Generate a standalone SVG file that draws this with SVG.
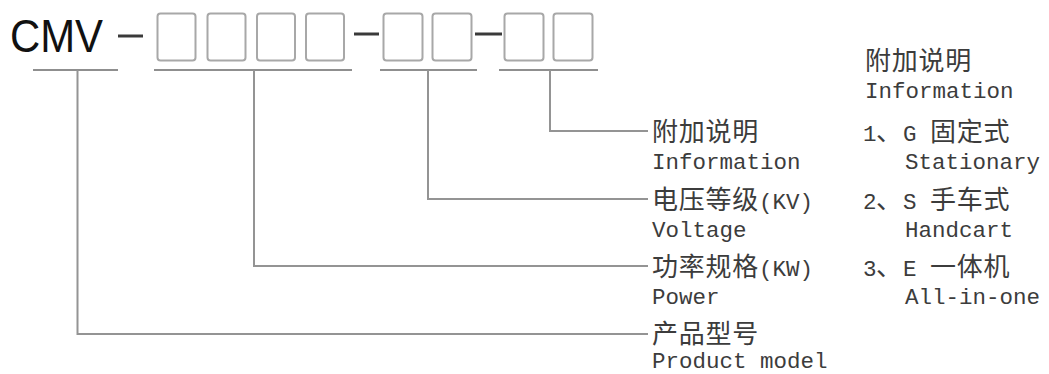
<svg xmlns="http://www.w3.org/2000/svg" width="1049" height="374" viewBox="0 0 1049 374">
<style>
.bg{fill:#ffffff}
.box{fill:none;stroke:#a8a8a8;stroke-width:2}
.dash{stroke:#3a3a3a;stroke-width:3;fill:none}
.ul{stroke:#8f8f8f;stroke-width:2;fill:none}
.conn{stroke:#949494;stroke-width:2;fill:none}
.cjk{font-family:"Noto Sans CJK SC","Noto Sans",sans-serif;font-size:26px;letter-spacing:0.75px;fill:#3c3c3c}
.mono{font-family:"Liberation Mono","DejaVu Sans Mono",monospace;font-size:22.5px;fill:#3c3c3c}
.title{font-family:"Liberation Sans",Arial,sans-serif;font-size:46px;fill:#111}
</style>
<rect class="bg" x="0" y="0" width="1049" height="374"/>
<g id="code">
  <text class="title" x="10" y="52" textLength="93" lengthAdjust="spacingAndGlyphs">CMV</text>
  <line class="dash" x1="118" y1="36" x2="143" y2="36"/>
  <rect class="box" x="157.5" y="13.5" width="38" height="47" rx="3"/>
  <rect class="box" x="207.5" y="13.5" width="38" height="47" rx="3"/>
  <rect class="box" x="257" y="13.5" width="38" height="47" rx="3"/>
  <rect class="box" x="306" y="13.5" width="38" height="47" rx="3"/>
  <line class="dash" x1="354" y1="34" x2="379" y2="34"/>
  <rect class="box" x="383.5" y="13.5" width="39" height="47" rx="3"/>
  <rect class="box" x="432.5" y="13.5" width="39" height="47" rx="3"/>
  <line class="dash" x1="475" y1="34" x2="502" y2="34"/>
  <rect class="box" x="504.5" y="13.5" width="39" height="47" rx="3"/>
  <rect class="box" x="553.5" y="13.5" width="39" height="47" rx="3"/>
  <line class="ul" x1="33" y1="70" x2="118" y2="70"/>
  <line class="ul" x1="154" y1="70" x2="352" y2="70"/>
  <line class="ul" x1="380" y1="70" x2="477" y2="70"/>
  <line class="ul" x1="499" y1="70" x2="598" y2="70"/>
</g>
<g id="connectors">
  <polyline class="conn" points="550,70 550,131 648,131"/>
  <polyline class="conn" points="428,70 428,199 648,199"/>
  <polyline class="conn" points="254,70 254,266 648,266"/>
  <polyline class="conn" points="77.5,70 77.5,334 648,334"/>
</g>
<g id="label-info">
  <text class="cjk" x="652" y="141">附加说明</text>
  <text class="mono" x="652" y="169">Information</text>
</g>
<g id="label-voltage">
  <text x="652" y="209"><tspan class="cjk">电压等级</tspan><tspan class="mono" x="759">(KV)</tspan></text>
  <text class="mono" x="652" y="237">Voltage</text>
</g>
<g id="label-power">
  <text x="652" y="276"><tspan class="cjk">功率规格</tspan><tspan class="mono" x="759">(KW)</tspan></text>
  <text class="mono" x="652" y="304">Power</text>
</g>
<g id="label-model">
  <text class="cjk" x="652" y="343">产品型号</text>
  <text class="mono" x="652" y="368">Product model</text>
</g>
<g id="info-legend">
  <text class="cjk" x="865" y="70">附加说明</text>
  <text class="mono" x="865" y="98">Information</text>
  <text x="863" y="141"><tspan class="mono">1</tspan><tspan class="cjk" x="876">、</tspan><tspan class="mono" x="903">G</tspan><tspan class="cjk" x="930">固定式</tspan></text>
  <text class="mono" x="905" y="169">Stationary</text>
  <text x="863" y="209"><tspan class="mono">2</tspan><tspan class="cjk" x="876">、</tspan><tspan class="mono" x="903">S</tspan><tspan class="cjk" x="930">手车式</tspan></text>
  <text class="mono" x="905" y="237">Handcart</text>
  <text x="863" y="276"><tspan class="mono">3</tspan><tspan class="cjk" x="876">、</tspan><tspan class="mono" x="903">E</tspan><tspan class="cjk" x="930">一体机</tspan></text>
  <text class="mono" x="905" y="304">All-in-one</text>
</g>
</svg>
